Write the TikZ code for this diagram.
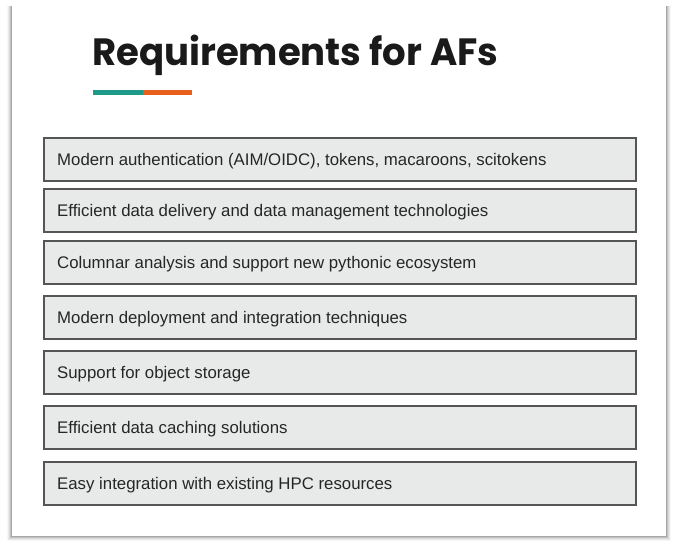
\documentclass[tikz,border=0pt]{standalone}
\usepackage{fontspec}
\setmainfont{Liberation Sans}
\newfontfamily\titlefont{Poppins}
\definecolor{boxfill}{HTML}{E8EAEA}
\definecolor{boxline}{HTML}{555555}
\definecolor{teal}{HTML}{1E9A8A}
\definecolor{accent}{HTML}{E8601C}
\definecolor{titleink}{HTML}{1A1A1A}
\begin{document}
\begin{tikzpicture}[x=1pt,y=-1pt,
  reqbox/.style={draw=boxline, line width=1.3pt, fill=boxfill, minimum width=592pt,
    minimum height=43pt, anchor=north west, inner sep=0pt, outer sep=0pt},
  reqtext/.style={anchor=west, font=\fontsize{16.8}{19}\selectfont, text=black!85, inner sep=0pt}]
  \useasboundingbox (0,0) rectangle (673,541);
  % slide with soft shadow
  \foreach \d/\o in {5/0.03,4/0.05,3/0.07,2/0.10,1/0.14}{
    \fill[black, opacity=\o] (12-\d,6) rectangle (666+\d,536+\d);
  }
  \fill[white] (12,5) rectangle (666,536);
  % title and accent bar
  \node[anchor=base west, inner sep=0pt, font=\titlefont\bfseries\fontsize{38}{42}\selectfont,
    text=titleink, xscale=0.975] (title) at (92,65) {Requirements for AFs};
  \fill[teal] (93,89.5) rectangle (143,95);
  \fill[accent] (143,89.5) rectangle (192,95);
  % requirement boxes
  \foreach \i/\y/\t in {
    1/138/{Modern authentication (AIM/OIDC), tokens, macaroons, scitokens},
    2/189/{Efficient data delivery and data management technologies},
    3/241/{Columnar analysis and support new pythonic ecosystem},
    4/296/{Modern deployment and integration techniques},
    5/351/{Support for object storage},
    6/406/{Efficient data caching solutions},
    7/462/{Easy integration with existing HPC resources}}{
    \node[reqbox] (b\i) at (44,\y) {};
    \node[reqtext] (t\i) at ([xshift=13pt,yshift=-2pt]b\i.west) {\t};
  }
\end{tikzpicture}
\end{document}
